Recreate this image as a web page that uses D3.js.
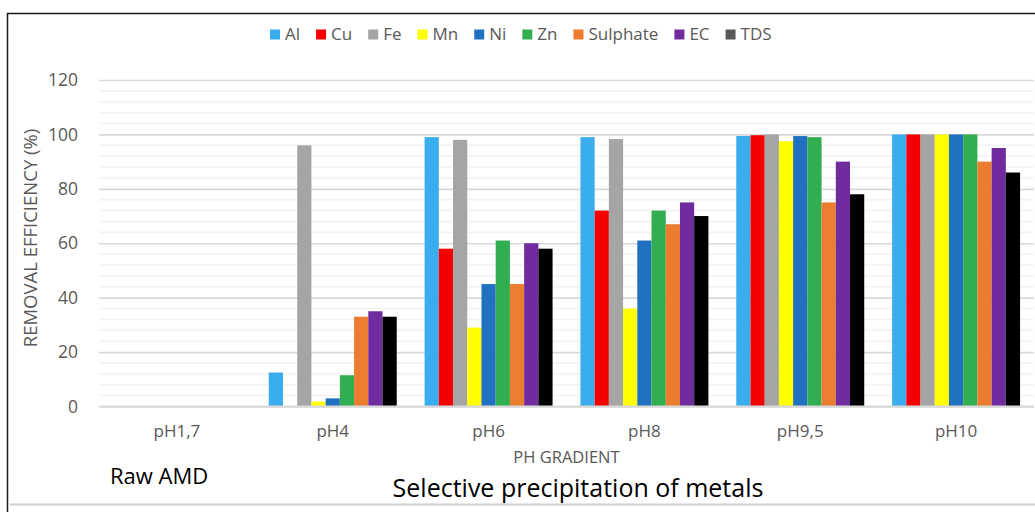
<!DOCTYPE html>
<html>
<head>
<meta charset="utf-8">
<script src="https://cdn.jsdelivr.net/npm/d3@7"></script>
<style>
  html, body { margin: 0; padding: 0; background: #fff; }
  svg { display: block; font-family: "Open Sans", "Liberation Sans", sans-serif; }
</style>
</head>
<body>
<svg id="chart" width="1035" height="512"></svg>
<script>
// pH stages along the gradient
const categories = ["pH1,7", "pH4", "pH6", "pH8", "pH9,5", "pH10"];
const seriesNames = ["Al", "Cu", "Fe", "Mn", "Ni", "Zn", "Sulphate", "EC", "TDS"];

// removal efficiency (%) per series, one value per pH stage
const Al       = [0, 12.5, 99, 99, 99.4, 100];
const Cu       = [0, 0, 58, 72, 99.7, 100];
const Fe       = [0, 96, 98, 98.3, 100, 100];
const Mn       = [0, 1.8, 29, 36, 97.5, 100];
const Ni       = [0, 3, 45, 61, 99.4, 100];
const Zn       = [0, 11.5, 61, 72, 99, 100];
const Sulphate = [0, 33, 45, 67, 75, 90];
const EC       = [0, 35, 60, 75, 90, 95];
const TDS      = [0, 33, 58, 70, 78, 86];

const yTicks = [0, 20, 40, 60, 80, 100, 120];

const seriesValues = [Al, Cu, Fe, Mn, Ni, Zn, Sulphate, EC, TDS];
const seriesColors = ["#3AADEE", "#F50000", "#A5A5A5", "#FFFF00", "#2270C0",
                      "#31AE4F", "#EC7C2E", "#702C9F", "#000000"];
const legendColors = seriesColors.map((c, i) => i === 8 ? "#595959" : c);

const svg = d3.select("#chart");

// plot geometry
const plotLeft = 99, plotRight = 1034, plotTop = 80, plotBottom = 406.5;

const x0 = d3.scaleBand().domain(categories).range([plotLeft, plotRight]).padding(0);
const x1 = d3.scaleBand().domain(seriesNames).range([0, x0.bandwidth()])
  .paddingInner(0).paddingOuter(0.98);
const y = d3.scaleLinear().domain([0, 120]).range([plotBottom, plotTop]);

// minor gridlines every 4 units
const minor = d3.range(4, 120, 4).filter(v => v % 20 !== 0);
svg.append("g").selectAll("line").data(minor).join("line")
  .attr("x1", plotLeft).attr("x2", plotRight)
  .attr("y1", d => y(d)).attr("y2", d => y(d))
  .attr("stroke", "#F2F2F2").attr("stroke-width", 1.5);

// major gridlines + tick labels via d3 axis
const yAxis = d3.axisLeft(y).tickValues(yTicks).tickSize(-(plotRight - plotLeft)).tickPadding(21);
const gy = svg.append("g").attr("transform", `translate(${plotLeft},0)`).call(yAxis);
gy.select(".domain").remove();
gy.selectAll(".tick line").attr("stroke", "#D9D9D9").attr("stroke-width", 1.6);
gy.selectAll(".tick text").attr("fill", "#595959").attr("font-size", 17.5)
  .attr("font-family", "Open Sans");

// bars
const groups = svg.append("g").selectAll("g").data(categories).join("g")
  .attr("transform", d => `translate(${x0(d)},0)`);
groups.selectAll("rect")
  .data((c, ci) => seriesNames.map((s, si) => ({ s, v: seriesValues[si][ci], color: seriesColors[si] })))
  .join("rect")
  .attr("x", d => x1(d.s))
  .attr("width", x1.bandwidth())
  .attr("y", d => y(d.v))
  .attr("height", d => y(0) - y(d.v))
  .attr("fill", d => d.color);

// baseline
svg.append("line").attr("x1", plotLeft).attr("x2", plotRight)
  .attr("y1", y(0)).attr("y2", y(0))
  .attr("stroke", "#D9D9D9").attr("stroke-width", 2);

// category labels
const xAxis = d3.axisBottom(x0).tickSize(0).tickPadding(18);
const gx = svg.append("g").attr("transform", `translate(0,${plotBottom})`).call(xAxis);
gx.select(".domain").remove();
gx.selectAll(".tick text").attr("fill", "#595959").attr("font-size", 17)
  .attr("font-family", "Open Sans");

// axis titles
svg.append("text").attr("x", (plotLeft + plotRight) / 2).attr("y", 463)
  .attr("text-anchor", "middle").attr("fill", "#595959").attr("font-size", 16.5)
  .text("PH GRADIENT");
svg.append("text").attr("transform", `translate(37,238) rotate(-90)`)
  .attr("text-anchor", "middle").attr("fill", "#595959").attr("font-size", 18.5)
  .text("REMOVAL EFFICIENCY (%)");

// chart frame
svg.append("path").attr("d", "M7.5,512 V13.5 H1035")
  .attr("fill", "none").attr("stroke", "#1a1a1a").attr("stroke-width", 1.5);
svg.append("line").attr("x1", 10).attr("x2", 1035).attr("y1", 504.5).attr("y2", 504.5)
  .attr("stroke", "#D0D0D0").attr("stroke-width", 2);

// annotations under the axis
svg.append("text").attr("x", 110).attr("y", 484).attr("fill", "#000").attr("font-size", 22)
  .text("Raw AMD");
svg.append("text").attr("x", 578).attr("y", 497).attr("text-anchor", "middle")
  .attr("fill", "#000").attr("font-size", 25)
  .text("Selective precipitation of metals");

// legend
const legend = svg.append("g").attr("transform", "translate(270,34)");
let lx = 0;
seriesNames.forEach((name, i) => {
  const item = legend.append("g").attr("transform", `translate(${lx},0)`);
  item.append("rect").attr("x", 0).attr("y", -4.5).attr("width", 10).attr("height", 10)
    .attr("fill", legendColors[i]);
  const t = item.append("text").attr("x", 15).attr("y", 0).attr("dy", "0.36em")
    .attr("fill", "#595959").attr("font-size", 17).text(name);
  lx += 15 + t.node().getComputedTextLength() + 16;
});
</script>
</body>
</html>
